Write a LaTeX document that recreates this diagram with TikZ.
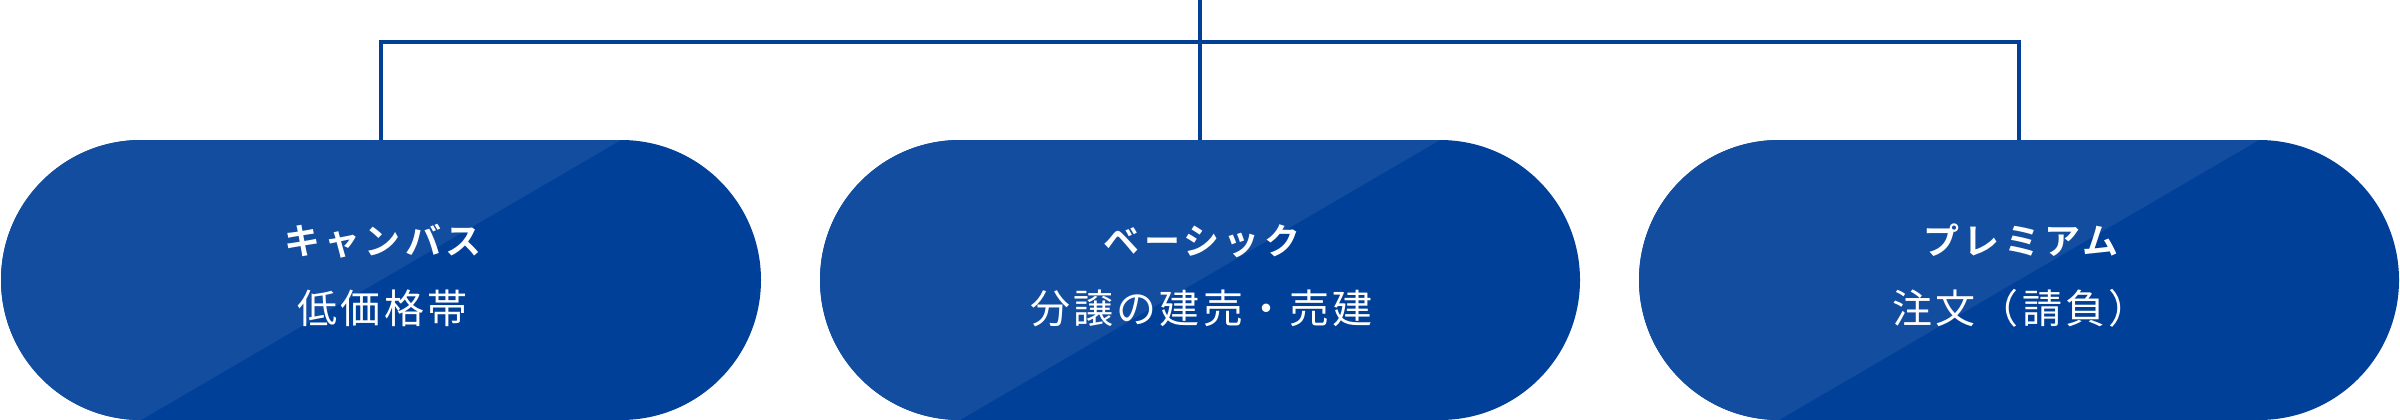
\documentclass[tikz,border=0pt]{standalone}
\usepackage{fontspec}
\usetikzlibrary{shapes.misc}
\newfontfamily\jptitle[LetterSpace=12]{Noto Sans CJK JP Bold}
\newfontfamily\jpsub[LetterSpace=8]{Noto Sans CJK JP}
\definecolor{lightblue}{RGB}{18,77,160}
\definecolor{darkblue}{RGB}{1,64,152}
\definecolor{linecol}{RGB}{2,63,150}
\tikzset{
  pill/.style={shape=rounded rectangle, minimum width=760pt, minimum height=280pt,
    inner sep=0pt, fill=darkblue, draw=none,
    path picture={\fill[lightblue] (path picture bounding box.south west)
      -- ([xshift=140pt]path picture bounding box.south west)
      -- ([xshift=620pt]path picture bounding box.north west)
      -- (path picture bounding box.north west) -- cycle;}},
  ttl/.style={anchor=base, text=white, inner sep=0pt, font=\jptitle\fontsize{36}{40}\selectfont},
  sub/.style={anchor=base, text=white, inner sep=0pt, font=\jpsub\fontsize{40}{44}\selectfont},
  conn/.style={draw=linecol, line width=4pt}
}
\begin{document}
\begin{tikzpicture}[x=1pt,y=-1pt]
\useasboundingbox (0,0) rectangle (2400,420);
\node[pill] (s1) at (381,280) {};
\node[pill] (s2) at (1200,280) {};
\node[pill] (s3) at (2019,280) {};
\node[ttl] (t1) at (381,254) {キャンバス\kern-4pt};
\node[sub] (d1) at (381,323) {低価格帯\kern-3pt};
\node[ttl] (t2) at (1200,254) {ベーシック\kern-4pt};
\node[sub] (d2) at (1200,323) {分譲の建売・売建\kern-3pt};
\node[ttl] (t3) at (2019,254) {プレミアム\kern-4pt};
\node[sub] (d3) at (2019,323) {注文（請負）\kern-3pt};
\coordinate (top) at (1200,0);
\coordinate (bar) at (1200,42);
\draw[conn] (top) -- (s2.north);
\draw[conn] (s1.north) |- (bar) -| (s3.north);
\end{tikzpicture}
\end{document}
